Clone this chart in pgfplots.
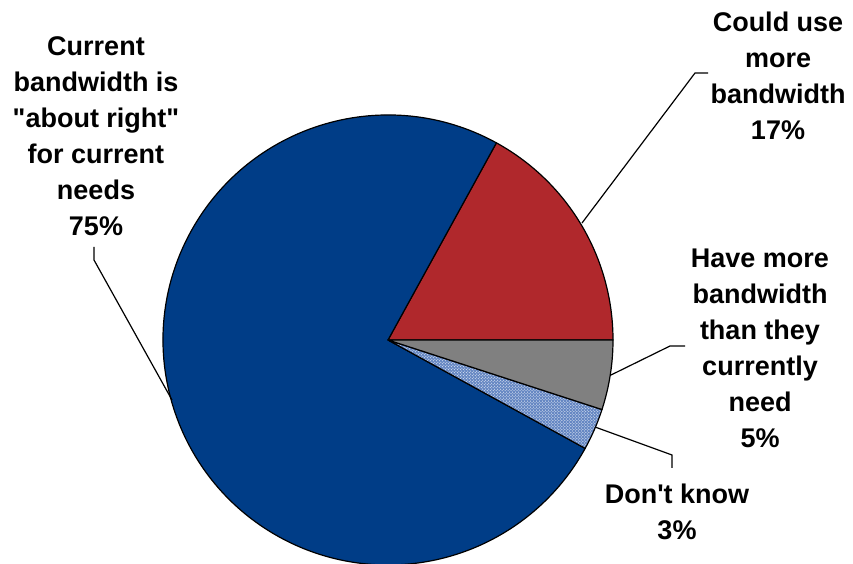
\documentclass[border=0pt]{standalone}
\usepackage{pgfplots}
\pgfplotsset{compat=1.18}
\usepackage{fontspec}
\setmainfont{Liberation Sans}[Ligatures=TeXOff]
\usetikzlibrary{patterns}
\definecolor{pblue}{HTML}{003D87}
\definecolor{pred}{HTML}{B0282C}
\definecolor{pgray}{HTML}{808080}
\definecolor{hatch}{HTML}{4A72B8}
\begin{document}
\begin{tikzpicture}
\begin{axis}[
  scale only axis, width=853bp, height=564bp,
  xmin=0, xmax=853, ymin=0, ymax=564,
  hide axis, clip=false]
% values (percent), counterclockwise from 0 degrees
\pgfmathsetmacro{\vR}{17}
\pgfmathsetmacro{\vB}{75}
\pgfmathsetmacro{\vC}{3}
\pgfmathsetmacro{\vG}{5}
\pgfmathsetmacro{\aA}{0}
\pgfmathsetmacro{\aB}{\aA+3.6*\vR}
\pgfmathsetmacro{\aC}{\aB+3.6*\vB}
\pgfmathsetmacro{\aD}{\aC+3.6*\vC}
\pgfmathsetmacro{\aE}{\aD+3.6*\vG}
\filldraw[fill=pred, draw=black, line width=1.2bp, line join=round]
  (axis cs:388,224) -- ++(\aA:225bp) arc[start angle=\aA, end angle=\aB, radius=225bp] -- cycle;
\filldraw[fill=pblue, draw=black, line width=1.2bp, line join=round]
  (axis cs:388,224) -- ++(\aB:225bp) arc[start angle=\aB, end angle=\aC, radius=225bp] -- cycle;
\fill[hatch!85] (axis cs:388,224) -- ++(\aC:225bp) arc[start angle=\aC, end angle=\aD, radius=225bp] -- cycle;
\fill[pattern=crosshatch dots, pattern color=white] (axis cs:388,224) -- ++(\aC:225bp) arc[start angle=\aC, end angle=\aD, radius=225bp] -- cycle;
\draw[black, line width=1.2bp, line join=round] (axis cs:388,224) -- ++(\aC:225bp) arc[start angle=\aC, end angle=\aD, radius=225bp] -- cycle;
\filldraw[fill=pgray, draw=black, line width=1.2bp, line join=round]
  (axis cs:388,224) -- ++(\aD:225bp) arc[start angle=\aD, end angle=\aE, radius=225bp] -- cycle;
% leader lines
\draw[line width=1.2bp] (axis cs:582,341) -- (axis cs:695,491) -- (axis cs:708,491);
\draw[line width=1.2bp] (axis cs:611,189) -- (axis cs:670,218) -- (axis cs:685,218);
\draw[line width=1.2bp] (axis cs:595,137) -- (axis cs:672,109) -- (axis cs:672,96);
\draw[line width=1.2bp] (axis cs:172,164) -- (axis cs:94,304) -- (axis cs:94,317);
% labels
\tikzset{lab/.style={inner sep=0pt, align=center, font=\fontsize{27bp}{36bp}\selectfont\bfseries}}
\node[lab] at (axis cs:96,428) {Current\\bandwidth is\\"about right"\\for current\\needs\\75\%};
\node[lab] at (axis cs:778,488) {Could use\\more\\bandwidth\\17\%};
\node[lab] at (axis cs:760,216) {Have more\\bandwidth\\than they\\currently\\need\\5\%};
\node[lab] at (axis cs:677,52.5) {Don't know\\3\%};
\end{axis}
\pgfresetboundingbox
\useasboundingbox (0,0) rectangle (853bp,564bp);
\end{tikzpicture}
\end{document}
